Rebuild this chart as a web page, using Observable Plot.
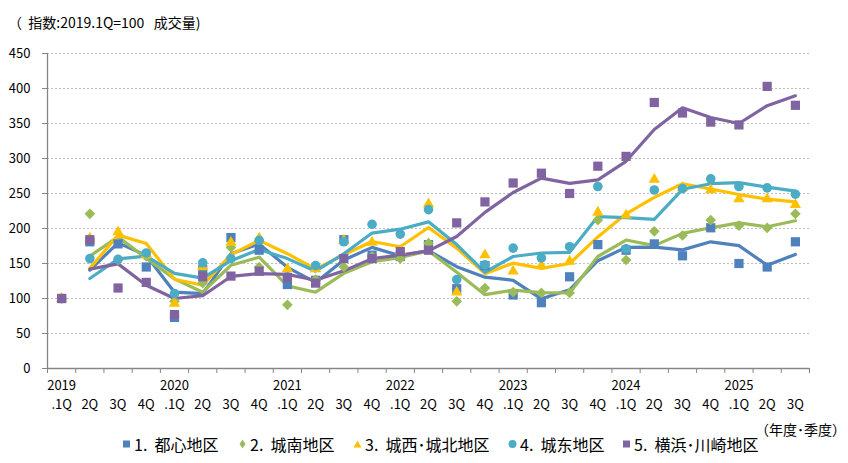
<!DOCTYPE html>
<html>
<head>
<meta charset="utf-8">
<script src="https://cdn.jsdelivr.net/npm/d3@7"></script>
<script src="https://cdn.jsdelivr.net/npm/@observablehq/plot@0.6"></script>
<style>
  html, body { margin: 0; padding: 0; background: #fff; }
  #wrap { position: relative; width: 848px; height: 463px; overflow: hidden; font-family: "Noto Sans CJK JP", "Noto Sans", sans-serif; color: #000; }
  #title { position: absolute; left: 8px; top: 12px; font-size: 14px; line-height: 20px; white-space: pre; }
  #chart { position: absolute; left: 0; top: 40px; }
  #unit { position: absolute; right: 2px; top: 419px; font-size: 14px; line-height: 20px; white-space: pre; }
  #legend { position: absolute; left: 0; top: 434px; width: 848px; height: 22px; font-size: 16px; line-height: 20px; white-space: pre; }
  .item { position: absolute; top: 0; display: flex; align-items: center; }
  .item svg { margin-right: 3px; }
</style>
</head>
<body>
<div id="wrap">
  <div id="title">（  指数:2019.1Q=100   成交量)</div>
  <div id="chart"></div>
  <div id="unit">（年度･季度）</div>
  <div id="legend"></div>
</div>
<script>
// ---- data ----
const categories = [
  "2019.1Q","2019.2Q","2019.3Q","2019.4Q",
  "2020.1Q","2020.2Q","2020.3Q","2020.4Q",
  "2021.1Q","2021.2Q","2021.3Q","2021.4Q",
  "2022.1Q","2022.2Q","2022.3Q","2022.4Q",
  "2023.1Q","2023.2Q","2023.3Q","2023.4Q",
  "2024.1Q","2024.2Q","2024.3Q","2024.4Q",
  "2025.1Q","2025.2Q","2025.3Q"
];
const quarterLabels = [
  ".1Q","2Q","3Q","4Q",".1Q","2Q","3Q","4Q",".1Q","2Q","3Q","4Q",
  ".1Q","2Q","3Q","4Q",".1Q","2Q","3Q","4Q",".1Q","2Q","3Q","4Q",
  ".1Q","2Q","3Q"
];
const yearLabels = ["2019","2020","2021","2022","2023","2024","2025"];
const yearPositions = [0, 4, 8, 12, 16, 20, 24];

const seriesNames = ["1. 都心地区", "2. 城南地区", "3. 城西･城北地区", "4. 城东地区", "5. 横浜･川崎地区"];
const seriesColors = ["#4F81BD", "#9BBB59", "#FFC000", "#4BACC6", "#8064A2"];
const seriesSymbols = ["square", "diamond2", "triangle", "circle", "square"];

const toshin   = [100,181,178,145, 73,141,187,169,120,126,184,162,160,177,114,147,105, 94,131,177,169,178,161,201,150,145,181];
const jonan    = [100,221,155,160, 96,122,173,145, 91,127,145,160,157,179, 96,115,109,108,108,212,155,196,190,212,204,201,221];
const josai    = [100,186,195,162, 93,145,180,186,142,142,183,180,168,235,109,162,139,147,153,223,219,270,258,255,242,242,234];
const joto     = [100,157,156,165,107,151,157,183,131,147,181,206,192,227,127,148,172,158,174,260,171,255,257,271,260,258,249];
const yokohama = [100,184,115,123, 77,131,132,139,130,122,157,157,167,169,208,238,265,279,250,289,303,380,365,352,348,403,376];

const seriesValues = [toshin, jonan, josai, joto, yokohama];

const tables = seriesValues.map((vals, s) =>
  vals.map((v, i) => ({i, cat: categories[i], v, series: seriesNames[s]}))
);

const symR = {square: 5.2, diamond2: 4.8, triangle: 4.2, circle: 4.8};

const marks = [
  Plot.gridY(d3.range(50, 451, 50), {stroke: "#bfbfbf", strokeOpacity: 1, strokeDasharray: "2,2"}),
  Plot.axisY(d3.range(0, 451, 50), {tickSize: 5, tickPadding: 12, stroke: "#868686", fill: "#000", fontSize: 13, label: null}),
  Plot.axisX(d3.range(-0.5, 27, 1), {tickSize: 5, tickFormat: () => "", stroke: "#868686", label: null}),
  Plot.ruleX([-0.5], {stroke: "#868686", strokeWidth: 1.3}),
  Plot.ruleY([0], {stroke: "#868686", strokeWidth: 1.3}),
  Plot.text(yearPositions, {x: d => d, text: (d, k) => yearLabels[k], frameAnchor: "bottom", dy: 21, fontSize: 13, fill: "#000"}),
  Plot.text(d3.range(categories.length), {x: d => d, text: d => quarterLabels[d], frameAnchor: "bottom", dy: 40, fontSize: 13, fill: "#000"})
];

tables.forEach((t, s) => {
  marks.push(Plot.line(t, Plot.windowY({k: 2, anchor: "end", strict: true}, {
    x: "i", y: "v", stroke: seriesColors[s], strokeWidth: 3.2, strokeLinejoin: "round"
  })));
});
tables.forEach((t, s) => {
  marks.push(Plot.dot(t, {
    x: "i", y: "v", symbol: seriesSymbols[s], r: symR[seriesSymbols[s]],
    fill: seriesColors[s], stroke: "none"
  }));
});

const chart = Plot.plot({
  width: 848,
  height: 392,
  marginLeft: 47,
  marginRight: 39,
  marginTop: 13,
  marginBottom: 64,
  x: {type: "linear", domain: [-0.5, 26.5], axis: null},
  y: {domain: [0, 450], axis: null},
  symbol: {type: "identity"},
  style: {fontFamily: "'Noto Sans CJK JP', 'Noto Sans', sans-serif", fontSize: "13px", background: "transparent", color: "#000", overflow: "visible"},
  marks
});
document.getElementById("chart").appendChild(chart);

// ---- legend ----
const legend = document.getElementById("legend");
const legendLeft = [122, 238, 353, 508, 622];
const shapes = {
  square: '<rect x="1" y="2.5" width="7" height="7"/>',
  diamond2: '<polygon points="4.5,1.5 7.5,6 4.5,10.5 1.5,6"/>',
  triangle: '<polygon points="4.5,2.5 8.5,9.5 0.5,9.5"/>',
  circle: '<circle cx="4.5" cy="6" r="4"/>'
};
seriesNames.forEach((name, s) => {
  const item = document.createElement("div");
  item.className = "item";
  item.style.left = legendLeft[s] + "px";
  item.innerHTML = `<svg width="9" height="12" viewBox="0 0 9 12"><g fill="${seriesColors[s]}">${shapes[seriesSymbols[s]]}</g></svg><span>${name.replace(". ", ".&nbsp;&nbsp;")}</span>`;
  legend.appendChild(item);
});
</script>
</body>
</html>
